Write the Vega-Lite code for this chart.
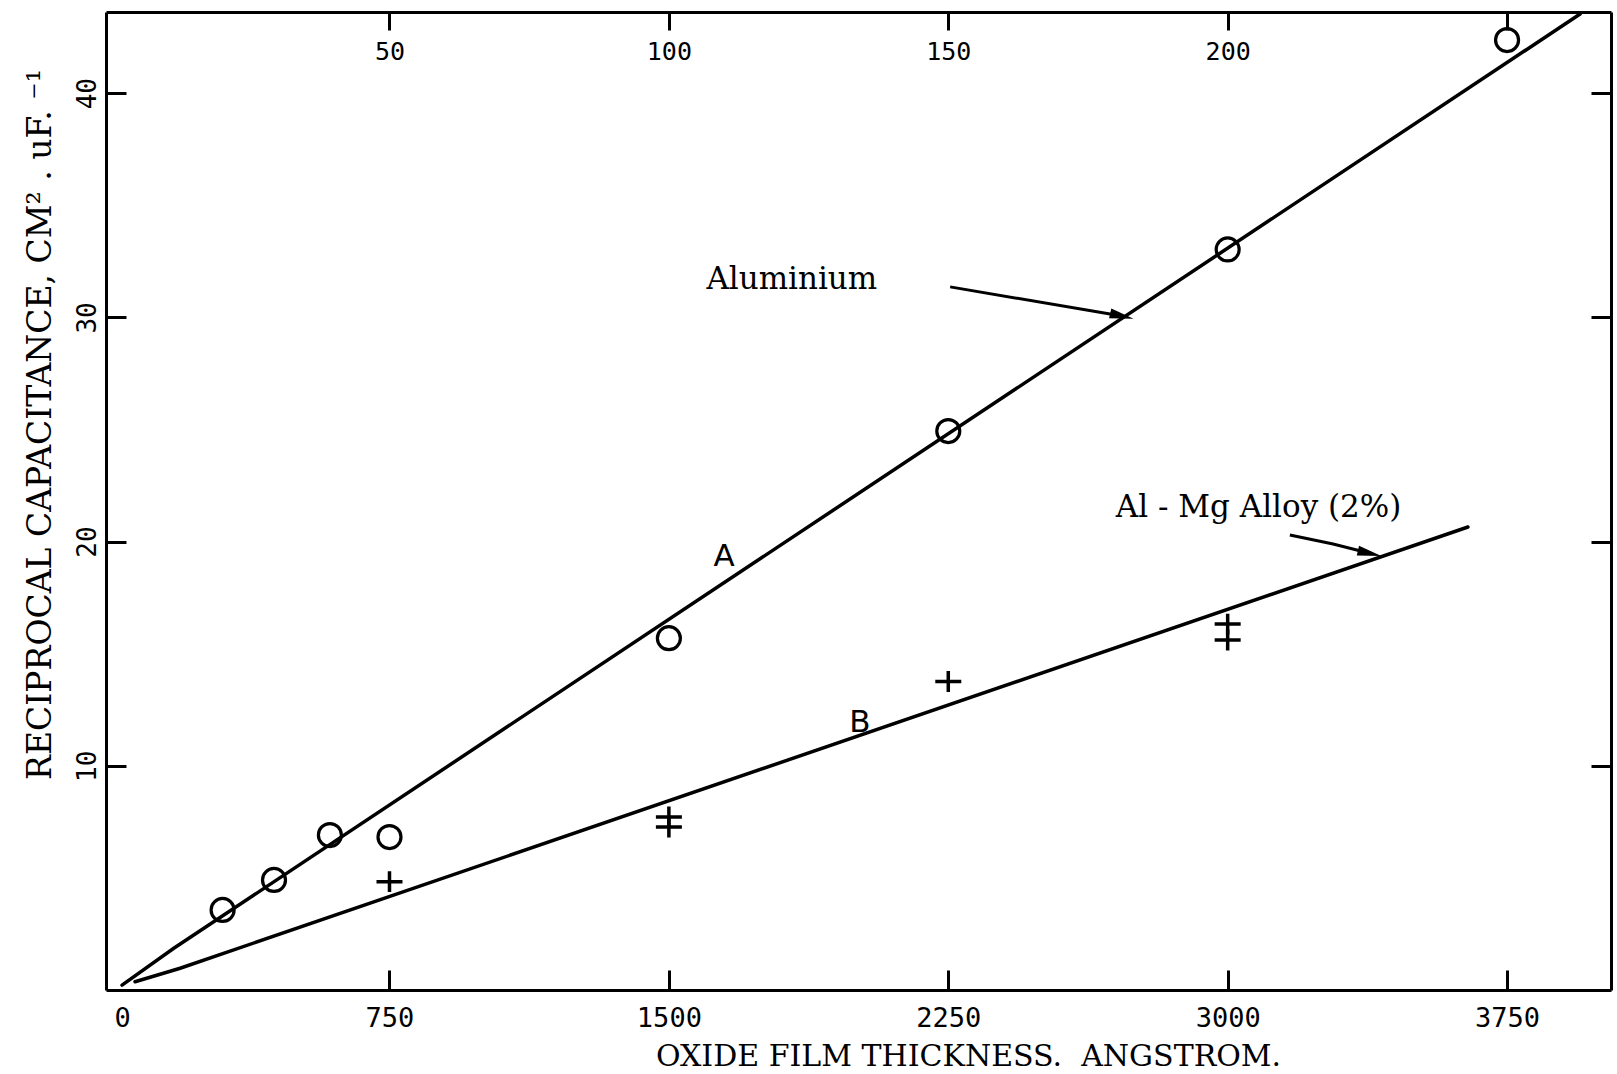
{
  "$schema": "https://vega.github.io/schema/vega-lite/v6.json",
  "width": 1505,
  "height": 978,
  "autosize": {"type": "none"},
  "padding": {"left": 106, "top": 12, "right": 6, "bottom": 84},
  "background": "white",
  "config": {
    "view": {"stroke": null},
    "axis": {
      "grid": false,
      "domainColor": "black",
      "domainWidth": 3,
      "tickColor": "black",
      "tickWidth": 3,
      "labelColor": "black",
      "titleColor": "black",
      "labelFlush": false,
      "labelOverlap": false,
      "labelBound": false
    }
  },
  "datasets": {
    "fits": [
      {"series": "A", "thickness": 32, "recip": 0.22},
      {"series": "A", "thickness": 170, "recip": 1.85},
      {"series": "A", "thickness": 3946, "recip": 43.53},
      {"series": "B", "thickness": 67, "recip": 0.37},
      {"series": "B", "thickness": 188, "recip": 0.97},
      {"series": "B", "thickness": 3645, "recip": 20.65}
    ],
    "aluminium": [
      {"thickness": 302, "recip": 3.57},
      {"thickness": 440, "recip": 4.91},
      {"thickness": 590, "recip": 6.91},
      {"thickness": 750, "recip": 6.82},
      {"thickness": 1500, "recip": 15.69},
      {"thickness": 2250, "recip": 24.93},
      {"thickness": 3000, "recip": 33.03},
      {"thickness": 3750, "recip": 42.37}
    ],
    "alloy": [
      {"thickness": 750, "recip": 4.83},
      {"thickness": 1500, "recip": 7.72},
      {"thickness": 1500, "recip": 7.27},
      {"thickness": 2250, "recip": 13.76},
      {"thickness": 3000, "recip": 16.32},
      {"thickness": 3000, "recip": 15.61}
    ],
    "pointers": [
      {"pointer": "Aluminium", "thickness": 2255, "recip": 31.36},
      {"pointer": "Aluminium", "thickness": 2716, "recip": 30.06},
      {"pointer": "Alloy", "thickness": 3167, "recip": 20.29},
      {"pointer": "Alloy", "thickness": 3283, "recip": 19.89},
      {"pointer": "Alloy", "thickness": 3381, "recip": 19.48}
    ],
    "heads": [
      {"pointer": "Aluminium", "thickness": 2716, "recip": 30.06},
      {"pointer": "Alloy", "thickness": 3381, "recip": 19.48}
    ],
    "names": [
      {"name": "Aluminium", "thickness": 1830, "recip": 31.27},
      {"name": "Al - Mg Alloy (2%)", "thickness": 3083, "recip": 21.1}
    ],
    "curves": [
      {"curve": "A", "thickness": 1648, "recip": 18.91},
      {"curve": "B", "thickness": 2013, "recip": 11.51}
    ]
  },
  "layer": [
    {
      "data": {"name": "fits"},
      "mark": {"type": "line", "color": "black", "strokeWidth": 3.5, "strokeCap": "round"},
      "encoding": {
        "x": {
          "field": "thickness", "type": "quantitative",
          "scale": {"domain": [-11, 4029], "nice": false, "zero": false},
          "axis": {
            "orient": "bottom",
            "values": [0, 750, 1500, 2250, 3000, 3750],
            "format": "d",
            "tickSize": -20,
            "tickOpacity": {"condition": {"test": "datum.value === 0", "value": 0}, "value": 1},
            "labelPadding": 35,
            "labelBaseline": "top",
            "labelOffset": {"condition": {"test": "datum.value === 0", "value": 12}, "value": 0},
            "labelFont": "DejaVu Sans Mono",
            "labelFontSize": 27,
            "title": "OXIDE FILM THICKNESS.\u00a0 ANGSTROM.",
            "titleFont": "DejaVu Serif",
            "titleFontSize": 30,
            "titleFontWeight": "normal",
            "titleX": 862,
            "titleY": 75,
            "titleAlign": "center",
            "titleBaseline": "alphabetic"
          }
        },
        "y": {
          "field": "recip", "type": "quantitative",
          "scale": {"domain": [0, 43.62], "nice": false, "zero": false},
          "axis": {
            "orient": "left",
            "values": [10, 20, 30, 40],
            "tickSize": -20,
            "labelAngle": 270,
            "labelAlign": "center",
            "labelBaseline": "alphabetic",
            "labelPadding": 31,
            "labelFont": "DejaVu Sans Mono",
            "labelFontSize": 26,
            "title": "RECIPROCAL CAPACITANCE, CM² . uF. ⁻¹",
            "titleFont": "DejaVu Serif",
            "titleFontSize": 33,
            "titleFontWeight": "normal",
            "titleAngle": 270,
            "titleX": -56,
            "titleY": 412,
            "titleAlign": "center",
            "titleBaseline": "alphabetic"
          }
        },
        "detail": {"field": "series"}
      }
    },
    {
      "data": {"name": "aluminium"},
      "mark": {"type": "point", "shape": "circle", "filled": false, "color": "black", "size": 529, "strokeWidth": 3.2, "opacity": 1},
      "encoding": {
        "x": {
          "field": "thickness", "type": "quantitative",
          "axis": {
            "orient": "top",
            "values": [750, 1500, 2250, 3000, 3750],
            "tickSize": -18,
            "labelPadding": -9.5,
            "labelBaseline": "top",
            "labelExpr": "datum.value === 3750 ? '' : format(datum.value / 15, 'd')",
            "labelFont": "DejaVu Sans Mono",
            "labelFontSize": 25,
            "title": null
          }
        },
        "y": {
          "field": "recip", "type": "quantitative",
          "axis": {
            "orient": "right",
            "values": [10, 20, 30, 40],
            "tickSize": -20,
            "labels": false,
            "title": null
          }
        }
      }
    },
    {
      "data": {"name": "alloy"},
      "mark": {"type": "point", "shape": "M0,-0.8V0.8M-1,0H1", "filled": false, "color": "black", "size": 676, "strokeWidth": 3.5, "opacity": 1},
      "encoding": {
        "x": {"field": "thickness", "type": "quantitative", "axis": null},
        "y": {"field": "recip", "type": "quantitative", "axis": null}
      }
    },
    {
      "data": {"name": "pointers"},
      "mark": {"type": "line", "color": "black", "strokeWidth": 3},
      "encoding": {
        "x": {"field": "thickness", "type": "quantitative", "axis": null},
        "y": {"field": "recip", "type": "quantitative", "axis": null},
        "detail": {"field": "pointer"}
      }
    },
    {
      "data": {"name": "heads"},
      "mark": {"type": "point", "shape": "M1,0L-1,-0.42L-1,0.42Z", "filled": true, "color": "black", "size": 576, "angle": 13, "opacity": 1},
      "encoding": {
        "x": {"field": "thickness", "type": "quantitative", "axis": null},
        "y": {"field": "recip", "type": "quantitative", "axis": null}
      }
    },
    {
      "data": {"name": "names"},
      "mark": {"type": "text", "font": "DejaVu Serif", "fontSize": 31, "align": "center", "baseline": "alphabetic", "color": "black"},
      "encoding": {
        "x": {"field": "thickness", "type": "quantitative", "axis": null},
        "y": {"field": "recip", "type": "quantitative", "axis": null},
        "text": {"field": "name"}
      }
    },
    {
      "data": {"name": "curves"},
      "mark": {"type": "text", "font": "DejaVu Sans", "fontSize": 31, "align": "center", "baseline": "alphabetic", "color": "black"},
      "encoding": {
        "x": {"field": "thickness", "type": "quantitative", "axis": null},
        "y": {"field": "recip", "type": "quantitative", "axis": null},
        "text": {"field": "curve"}
      }
    }
  ],
  "resolve": {"axis": {"x": "independent", "y": "independent"}}
}
